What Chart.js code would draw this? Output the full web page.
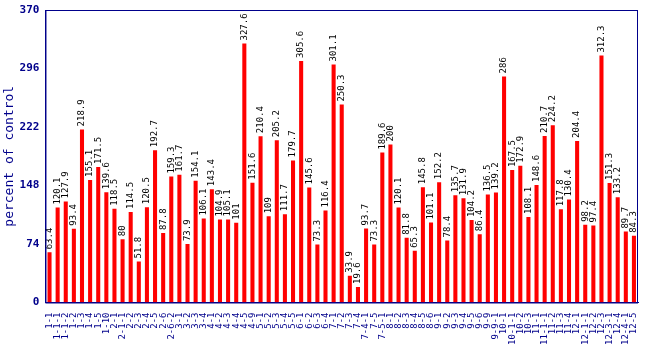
<!DOCTYPE html>
<html>
<head>
<meta charset="utf-8">
<script src="https://cdn.jsdelivr.net/npm/chart.js@4/dist/chart.umd.min.js"></script>
<style>
  body { margin: 0; background: #fff; }
  #wrap { width: 650px; height: 350px; }
</style>
</head>
<body>
<div id="wrap"><canvas id="pctChart"></canvas></div>
<script>
// categories (x labels)
const categories = ["1-1","1-1-1","1-1-2","1-2","1-3","1-4","1-5","1-10","2-1","2-1-1","2-2","2-3","2-4","2-5","2-6","2-6-2","3-1","3-2","3-3","3-4","4-1","4-2","4-3","4-4",
  "4-5","4-9","5-1","5-2","5-3","5-4","5-5","6-1","6-2","6-3","6-4","7-1","7-2","7-3","7-4","7-4-1","7-5","7-5-1","8-1","8-2","8-3","8-4","8-5","8-6",
  "9-1","9-2","9-3","9-4","9-5","9-6","9-9","9-9-1","10-1","10-1-1","10-2","10-3","11-1","11-1-1","11-2","11-3","11-4","12-1","12-1-1","12-2","12-3","12-3-1","12-4","12-4-1","12-5"];

// percent of control values
const values = [63.4,120.1,127.9,93.4,218.9,155.1,171.5,139.6,118.5,80,114.5,51.8,120.5,192.7,87.8,159.3,161.7,73.9,154.1,106.1,143.4,104.9,105.1,101,
  327.6,151.6,210.4,109,205.2,111.7,179.7,305.6,145.6,73.3,116.4,301.1,250.3,33.9,19.6,93.7,73.3,189.6,200,120.1,81.8,65.3,145.8,101.1,
  152.2,78.4,135.7,131.9,104.2,86.4,136.5,139.2,286,167.5,172.9,108.1,148.6,210.7,224.2,117.8,130.4,204.4,98.2,97.4,312.3,151.3,133.2,89.7,84.3];

const yTicks = [0, 74, 148, 222, 296, 370];

const navy = '#00008b';
const mono = '"DejaVu Sans Mono", "Liberation Mono", monospace';

// value labels above each bar, rotated
const valueLabels = {
    id: 'valueLabels',
    afterDatasetsDraw(chart) {
        const ctx = chart.ctx;
        const meta = chart.getDatasetMeta(0);
        ctx.save();
        ctx.font = '9px ' + mono;
        ctx.fillStyle = '#000';
        ctx.textAlign = 'left';
        ctx.textBaseline = 'middle';
        meta.data.forEach((bar, i) => {
            ctx.save();
            ctx.translate(bar.x, bar.y - 3);
            ctx.rotate(-Math.PI / 2);
            ctx.fillText(String(values[i]), 0, 0);
            ctx.restore();
        });
        ctx.restore();
    }
};

// frame round the plot area
const frame = {
    id: 'frame',
    afterDraw(chart) {
        const a = chart.chartArea;
        const ctx = chart.ctx;
        ctx.save();
        ctx.strokeStyle = navy;
        ctx.lineWidth = 1;
        ctx.strokeRect(a.left + 0.5, a.top + 0.5, a.right - a.left - 1, a.bottom - a.top);
        ctx.restore();
    }
};

new Chart(document.getElementById('pctChart').getContext('2d'), {
    type: 'bar',
    data: {
        labels: categories,
        datasets: [{
            data: values,
            backgroundColor: '#ff0000',
            barPercentage: 0.5,
            categoryPercentage: 1.0
        }]
    },
    options: {
        responsive: true,
        maintainAspectRatio: false,
        animation: false,
        layout: { padding: { top: 10, right: 12, left: 0, bottom: 3 } },
        plugins: { legend: { display: false }, tooltip: { enabled: false } },
        scales: {
            x: {
                grid: { display: false },
                border: { color: navy },
                ticks: {
                    autoSkip: false,
                    minRotation: 90,
                    maxRotation: 90,
                    color: navy,
                    padding: 2,
                    font: { family: mono, size: 9 }
                }
            },
            y: {
                min: 0,
                max: 370,
                afterBuildTicks(axis) { axis.ticks = yTicks.map(v => ({ value: v })); },
                grid: { display: false, drawTicks: true, tickLength: 4, tickColor: navy },
                border: { color: navy },
                ticks: {
                    color: navy,
                    padding: 2,
                    font: { family: mono, size: 11, weight: 'bold' }
                },
                title: {
                    display: true,
                    text: 'percent of control',
                    color: navy,
                    padding: { top: 2, bottom: 0 },
                    font: { family: mono, size: 13 }
                }
            }
        }
    },
    plugins: [valueLabels, frame]
});
</script>
</body>
</html>
